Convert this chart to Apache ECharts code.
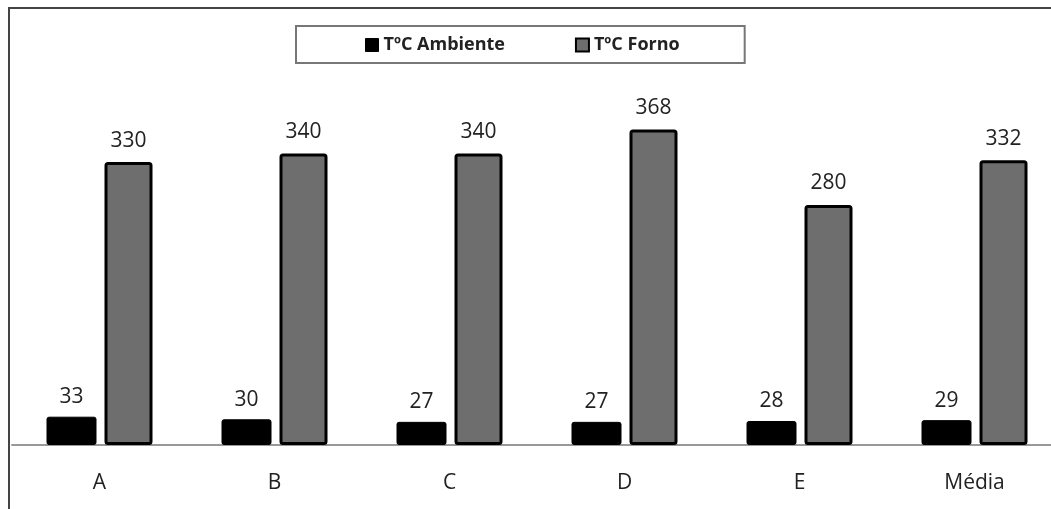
<!DOCTYPE html>
<html><head><meta charset="utf-8">
<script src="https://cdn.jsdelivr.net/npm/echarts@6/dist/echarts.min.js"></script>
<style>html,body{margin:0;padding:0;background:#fff}#c{width:1051px;height:509px}</style>
</head><body><div id="c"></div>
<script>
const categories = ['A', 'B', 'C', 'D', 'E', 'Média'];
const ambiente = [33, 30, 27, 27, 28, 29];
const forno = [330, 340, 340, 368, 280, 332];
const seriesNames = ['TºC Ambiente', 'TºC Forno'];

const chart = echarts.init(document.getElementById('c'));
const font = '"Open Sans", "Noto Sans", sans-serif';
chart.setOption({
  animation: false,
  backgroundColor: '#fff',
  graphic: [{
    type: 'rect', z: 100, silent: true,
    shape: { x: 9, y: 8, width: 1200, height: 700 },
    style: { fill: 'none', stroke: '#444', lineWidth: 2 }
  }],
  legend: {
    left: 296, top: 26,
    padding: [10, 65, 9, 69],
    borderColor: '#777', borderWidth: 2,
    itemGap: 70, itemWidth: 13, itemHeight: 13,
    icon: 'rect',
    textStyle: { fontFamily: font, fontSize: 18, fontWeight: 'bold', color: '#222' },
    data: [
      { name: seriesNames[0], itemStyle: { color: '#000', borderColor: '#000', borderWidth: 1 } },
      { name: seriesNames[1], itemStyle: { color: '#6e6e6e', borderColor: '#000', borderWidth: 2 } }
    ]
  },
  grid: { left: 12, width: 1050, top: 102, bottom: 64, outerBoundsMode: 'none', containLabel: false },
  xAxis: {
    type: 'category', data: categories,
    axisLine: { lineStyle: { color: '#999', width: 2 } },
    axisTick: { show: false },
    axisLabel: { fontFamily: font, fontSize: 21, color: '#222', margin: 28 }
  },
  yAxis: { type: 'value', min: 0, max: 400, show: false, splitLine: { show: false } },
  series: [
    {
      name: seriesNames[0], type: 'bar', data: ambiente,
      barWidth: 50, barGap: '16%',
      itemStyle: { color: '#000', borderColor: '#000', borderWidth: 1, borderRadius: 2 },
      label: { show: true, position: 'top', distance: 9, fontFamily: font, fontSize: 21, color: '#222' }
    },
    {
      name: seriesNames[1], type: 'bar', data: forno,
      barWidth: 48,
      itemStyle: { color: '#6e6e6e', borderColor: '#000', borderWidth: 3, borderRadius: 2 },
      label: { show: true, position: 'top', distance: 11, fontFamily: font, fontSize: 21, color: '#222' }
    }
  ]
});
</script></body></html>
